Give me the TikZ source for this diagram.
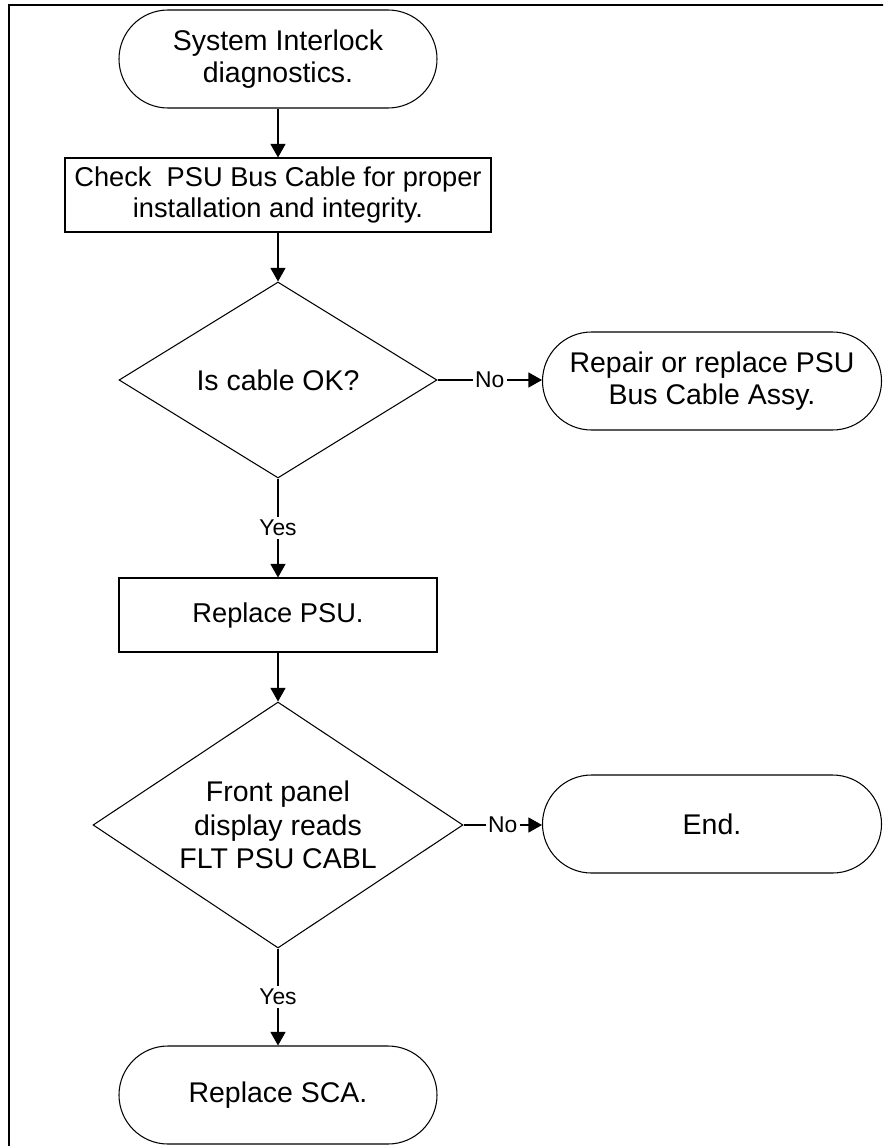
\documentclass[tikz,border=0pt]{standalone}
\usepackage{fontspec}
\setmainfont{Liberation Sans}
\usetikzlibrary{positioning}
\usetikzlibrary{shapes}
\usetikzlibrary{arrows.meta}

\begin{document}
\begin{tikzpicture}[
	terminal/.style={draw, line width=0.6pt, rounded corners=0.98cm, minimum width=6.36cm, minimum height=1.96cm, inner sep=0pt, align=center, font=\fontsize{16.2}{18.5}\selectfont},
	process/.style={draw, line width=0.6pt, minimum height=1.48cm, inner sep=0pt, align=center, font=\fontsize{15.5}{17.5}\selectfont},
	decision/.style={draw, diamond, shape aspect=1.5, line width=0.6pt, inner sep=0pt, align=center, font=\fontsize{16.2}{19}\selectfont},
	flowarrow/.style={line width=0.6pt, -{Triangle[length=0.27cm, width=0.3cm]}},
	branchlabel/.style={fill=white, inner sep=1.5pt, font=\fontsize{13}{15}\selectfont}
]
\useasboundingbox (0,0) rectangle (17.66,-22.92);
\clip (0,0) rectangle (17.66,-22.92);

%frame
\draw[line width=1.2pt] (0.18,-0.10) rectangle (18,-24);

%terminals
\node[terminal] (start) at (5.56,-1.18) {System Interlock\\diagnostics.};
\node[terminal, minimum width=6.78cm] (repair) at (14.24,-7.62) {Repair or replace PSU\\Bus Cable Assy.};
\node[terminal, minimum width=6.78cm] (finish) at (14.24,-16.48) {End.};
\node[terminal] (sca) at (5.56,-21.90) {Replace SCA.};

%boxes
\node[process, minimum width=8.52cm] (check) at (5.56,-3.90) {Check\ \ PSU Bus Cable for proper\\installation and integrity.};
\node[process, minimum width=6.36cm] (psu) at (5.56,-12.30) {Replace PSU.};

%decisions
\node[decision, minimum width=6.36cm, minimum height=3.92cm] (cableok) at (5.56,-7.60) {Is cable OK?};
\node[decision, minimum width=7.40cm, minimum height=4.92cm] (panel) at (5.56,-16.50) {Front panel\\display reads\\FLT PSU CABL};

%arrows
\draw[flowarrow] (start) -- (check);
\draw[flowarrow] (check) -- (cableok);
\draw[flowarrow] (cableok.east) -- node[branchlabel] (no1) {No} (repair.west |- cableok.east);
\draw[flowarrow] (cableok) -- node[branchlabel] (yes1) {Yes} (psu);
\draw[flowarrow] (psu) -- (panel);
\draw[flowarrow] (panel.east) -- node[branchlabel] (no2) {No} (finish.west |- panel.east);
\draw[flowarrow] (panel) -- node[branchlabel] (yes2) {Yes} (sca);

\end{tikzpicture}
\end{document}
